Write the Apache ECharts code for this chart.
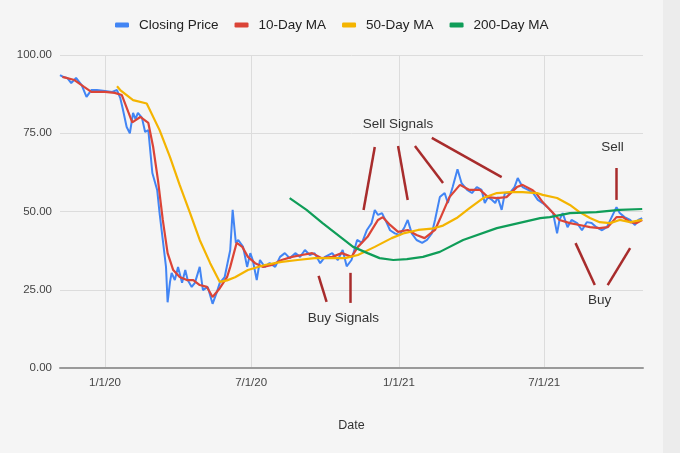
<!DOCTYPE html>
<html><head><meta charset="utf-8">
<script src="https://cdn.jsdelivr.net/npm/echarts@6/dist/echarts.min.js"></script>
<style>html,body{margin:0;padding:0;background:#f5f5f5}#c{width:680px;height:453px}</style>
</head><body><div id="c"></div>
<script>
const legendNames = ['Closing Price', '10-Day MA', '50-Day MA', '200-Day MA'];
const xTickDates = ['2020-01-01', '2020-07-01', '2021-01-01', '2021-07-01'];
const yTicks = [0, 25, 50, 75, 100];

const closePrice = [
 ['2019-11-06',93.6],['2019-11-10',93.0],['2019-11-15',92.7],['2019-11-20',91.0],['2019-11-26',92.7],['2019-12-03',90.4],
 ['2019-12-09',86.6],['2019-12-15',88.8],['2019-12-22',88.8],['2020-01-01',88.5],['2020-01-10',88.2],['2020-01-16',88.8],
 ['2020-01-20',86.3],['2020-01-23',83.0],['2020-01-28',77.0],['2020-02-01',75.0],['2020-02-05',81.5],['2020-02-08',79.5],
 ['2020-02-11',81.5],['2020-02-16',80.0],['2020-02-20',75.4],['2020-02-24',76.0],['2020-02-29',62.3],['2020-03-06',56.9],
 ['2020-03-09',49.5],['2020-03-13',40.9],['2020-03-17',32.3],['2020-03-19',21.0],['2020-03-22',27.5],['2020-03-24',30.4],
 ['2020-03-28',28.1],['2020-04-01',32.3],['2020-04-06',27.2],['2020-04-10',31.3],['2020-04-13',28.1],['2020-04-18',25.9],
 ['2020-04-22',27.2],['2020-04-28',32.3],['2020-05-02',24.9],['2020-05-08',25.9],['2020-05-14',20.5],['2020-05-19',24.0],
 ['2020-05-23',27.2],['2020-05-29',29.0],['2020-06-05',37.7],['2020-06-08',50.5],['2020-06-12',40.0],['2020-06-15',40.9],
 ['2020-06-21',38.7],['2020-06-26',32.3],['2020-06-30',36.7],['2020-07-03',34.5],['2020-07-08',28.1],['2020-07-12',34.5],
 ['2020-07-18',32.3],['2020-07-24',33.5],['2020-07-31',32.3],['2020-08-06',35.5],['2020-08-12',36.7],['2020-08-18',35.1],
 ['2020-08-25',36.7],['2020-08-31',35.5],['2020-09-06',37.7],['2020-09-12',36.1],['2020-09-18',36.7],['2020-09-25',33.5],
 ['2020-10-01',35.5],['2020-10-10',36.7],['2020-10-17',34.5],['2020-10-23',37.7],['2020-10-28',32.5],['2020-11-03',34.5],
 ['2020-11-10',40.9],['2020-11-16',40.0],['2020-11-22',44.0],['2020-11-28',46.3],['2020-12-02',50.5],['2020-12-06',48.9],
 ['2020-12-11',49.5],['2020-12-17',46.3],['2020-12-21',44.0],['2020-12-27',43.0],['2021-01-02',42.5],['2021-01-08',45.0],
 ['2021-01-12',47.3],['2021-01-17',43.0],['2021-01-23',40.9],['2021-01-30',40.0],['2021-02-05',40.9],['2021-02-11',43.0],
 ['2021-02-15',47.3],['2021-02-21',54.6],['2021-02-27',55.9],['2021-03-03',52.7],['2021-03-09',57.8],['2021-03-15',63.5],
 ['2021-03-20',59.1],['2021-03-27',56.9],['2021-04-02',55.9],['2021-04-08',57.8],['2021-04-14',56.9],['2021-04-18',52.7],
 ['2021-04-22',54.6],['2021-04-27',53.7],['2021-05-01',52.7],['2021-05-04',54.6],['2021-05-09',50.5],['2021-05-13',55.9],
 ['2021-05-19',55.9],['2021-05-25',57.8],['2021-05-29',60.7],['2021-06-04',57.8],['2021-06-11',56.9],['2021-06-17',55.9],
 ['2021-06-23',53.7],['2021-06-29',52.7],['2021-07-05',51.4],['2021-07-12',49.5],['2021-07-17',43.0],['2021-07-20',47.3],
 ['2021-07-24',49.5],['2021-07-30',45.0],['2021-08-04',47.3],['2021-08-11',46.3],['2021-08-17',44.0],['2021-08-23',46.6],
 ['2021-08-29',46.3],['2021-09-04',45.0],['2021-09-11',44.0],['2021-09-17',45.0],['2021-09-23',48.2],['2021-09-29',51.4],
 ['2021-10-03',49.5],['2021-10-09',48.2],['2021-10-16',47.3],['2021-10-22',45.7],['2021-10-26',47.3],['2021-10-31',47.9]
];

const ma10 = [
 ['2019-11-09',93.0],['2019-11-24',92.0],['2019-12-06',89.8],['2019-12-15',88.2],['2020-01-01',88.2],['2020-01-13',87.9],
 ['2020-01-22',87.2],['2020-01-30',81.8],['2020-02-04',78.5],['2020-02-14',80.2],['2020-02-24',78.3],['2020-03-01',70.6],
 ['2020-03-07',60.0],['2020-03-13',47.3],['2020-03-19',36.7],['2020-03-26',31.3],['2020-04-03',29.1],['2020-04-12',28.1],
 ['2020-04-20',28.1],['2020-04-28',26.5],['2020-05-07',25.9],['2020-05-14',22.7],['2020-05-23',25.5],['2020-06-01',29.0],
 ['2020-06-05',32.3],['2020-06-13',40.0],['2020-06-20',38.7],['2020-06-27',35.5],['2020-07-06',33.5],['2020-07-16',32.3],
 ['2020-07-27',32.9],['2020-08-08',34.5],['2020-08-21',35.5],['2020-09-02',36.1],['2020-09-15',36.7],['2020-09-27',35.1],
 ['2020-10-10',35.5],['2020-10-22',36.7],['2020-11-03',35.5],['2020-11-11',38.7],['2020-11-23',41.9],['2020-12-06',47.3],
 ['2020-12-12',48.2],['2020-12-21',45.7],['2020-12-31',43.5],['2021-01-12',44.1],['2021-01-23',42.5],['2021-02-02',41.5],
 ['2021-02-15',44.1],['2021-02-21',47.5],['2021-03-05',54.6],['2021-03-18',58.5],['2021-03-30',56.9],['2021-04-12',56.9],
 ['2021-04-22',54.6],['2021-05-03',54.3],['2021-05-15',54.6],['2021-05-28',57.8],['2021-06-04',58.5],['2021-06-16',56.9],
 ['2021-06-22',55.5],['2021-06-29',53.0],['2021-07-12',49.5],['2021-07-20',47.3],['2021-08-02',46.3],['2021-08-14',45.7],
 ['2021-08-27',45.0],['2021-09-08',44.7],['2021-09-18',45.0],['2021-09-29',48.2],['2021-10-07',48.2],['2021-10-16',46.6],
 ['2021-10-24',46.3],['2021-10-31',47.3]
];

const ma50 = [
 ['2020-01-16',90.0],['2020-01-20',88.8],['2020-02-05',85.6],['2020-02-22',84.5],['2020-03-09',76.0],['2020-03-22',67.4],
 ['2020-04-03',58.5],['2020-04-16',49.5],['2020-04-28',40.9],['2020-05-11',33.5],['2020-05-23',27.5],['2020-06-01',28.0],
 ['2020-06-11',29.0],['2020-06-27',31.3],['2020-07-18',32.9],['2020-08-08',33.9],['2020-08-28',34.5],['2020-09-18',35.1],
 ['2020-10-26',35.1],['2020-11-11',36.1],['2020-12-02',38.7],['2020-12-23',41.5],['2021-01-08',43.1],['2021-01-25',44.1],
 ['2021-02-11',44.5],['2021-02-25',45.5],['2021-03-14',47.9],['2021-03-30',51.1],['2021-04-16',54.3],['2021-05-03',55.9],
 ['2021-05-19',56.2],['2021-06-04',56.2],['2021-06-22',55.9],['2021-06-29',55.3],['2021-07-17',54.3],['2021-08-02',52.1],
 ['2021-08-14',49.8],['2021-08-27',47.9],['2021-09-08',46.6],['2021-09-21',46.3],['2021-10-03',47.3],['2021-10-16',46.6],
 ['2021-10-31',47.3]
];

const ma200 = [
 ['2020-08-18',54.3],['2020-09-08',50.5],['2020-09-28',46.3],['2020-10-20',41.9],['2020-11-05',38.7],['2020-11-23',36.7],
 ['2020-12-08',35.1],['2020-12-25',34.5],['2021-01-11',34.8],['2021-01-31',35.5],['2021-02-21',37.1],['2021-03-22',40.9],
 ['2021-05-03',44.7],['2021-06-26',47.9],['2021-07-08',48.2],['2021-08-02',49.5],['2021-09-04',49.8],['2021-10-03',50.5],
 ['2021-10-31',50.8]
];

// annotation strokes: [startDate, startValue, endDate, endValue]
const annotationLines = [
 ['2020-12-02',70.6,'2020-11-18',50.5],
 ['2020-12-31',70.9,'2021-01-12',53.7],
 ['2021-01-21',70.9,'2021-02-25',59.1],
 ['2021-02-11',73.5,'2021-05-09',61.0],
 ['2020-09-23',29.4,'2020-10-03',21.1],
 ['2020-11-02',30.4,'2020-11-02',20.8],
 ['2021-09-29',63.9,'2021-09-29',53.7],
 ['2021-08-09',39.9,'2021-09-02',26.5],
 ['2021-09-18',26.5,'2021-10-16',38.3]
];
// annotation texts: [text, date, value]
const annotationTexts = [
 ['Sell Signals','2020-12-31',78.0],
 ['Buy Signals','2020-10-24',16.0],
 ['Sell','2021-09-24',70.6],
 ['Buy','2021-09-08',21.7]
];

const T = s => { const p = s.split('-').map(Number); return Date.UTC(p[0], p[1]-1, p[2]); };
const conv = arr => arr.map(d => [T(d[0]), d[1]]);
const colors = ['#4285f4', '#db4437', '#f4b400', '#0f9d58'];

const chart = echarts.init(document.getElementById('c'), null, {renderer: 'canvas'});
const tickTs = xTickDates.map(T);
const lineSeries = (name, data, color, w) => ({
  name, type: 'line', data: conv(data), showSymbol: false, symbol: 'none',
  lineStyle: {color, width: w}, itemStyle: {color}, silent: true, z: 2
});

chart.setOption({
  animation: false,
  backgroundColor: '#f5f5f5',
  textStyle: {fontFamily: 'Liberation Sans, Arial, sans-serif'},
  graphic: [{type: 'rect', right: 0, top: 0, shape: {width: 17, height: 453}, style: {fill: '#ececec'}, silent: true}],
  legend: {
    data: legendNames, left: 110, top: 13, icon: 'roundRect', itemWidth: 14, itemHeight: 5, itemGap: 16,
    textStyle: {fontSize: 13.5, color: '#222', padding: [0, 0, 0, 5]}
  },
  grid: {left: 60, right: 37, top: 55, bottom: 85, containLabel: false},
  xAxis: {
    type: 'value', min: T('2019-11-06'), max: T('2021-11-01'),
    name: 'Date', nameLocation: 'middle', nameGap: 51,
    nameTextStyle: {fontSize: 12.5, color: '#333'},
    axisLine: {show: true, onZero: false, lineStyle: {color: '#9a9a9a', width: 2}},
    axisTick: {show: false, customValues: tickTs},
    axisLabel: {customValues: tickTs, fontSize: 11.5, color: '#444', margin: 9,
      formatter: v => { const d = new Date(v); return (d.getUTCMonth()+1) + '/' + d.getUTCDate() + '/' + String(d.getUTCFullYear()).slice(2); }},
    splitLine: {show: true, lineStyle: {color: '#dcdcdc', width: 1}}
  },
  yAxis: {
    type: 'value', min: 0, max: 100, interval: 25,
    axisLine: {show: false}, axisTick: {show: false},
    axisLabel: {fontSize: 11.5, color: '#444', margin: 8, formatter: v => v.toFixed(2)},
    splitLine: {lineStyle: {color: '#dcdcdc', width: 1}}
  },
  series: [
    lineSeries(legendNames[0], closePrice, colors[0], 2),
    lineSeries(legendNames[1], ma10, colors[1], 2.2),
    lineSeries(legendNames[2], ma50, colors[2], 2.2),
    lineSeries(legendNames[3], ma200, colors[3], 2.2),
    {
      name: 'annotations', type: 'line', data: [], silent: true, z: 5,
      markLine: {
        silent: true, symbol: ['none', 'none'], animation: false,
        lineStyle: {color: '#a82c2c', width: 2.5, type: 'solid'}, label: {show: false},
        emphasis: {disabled: true},
        data: annotationLines.map(a => [{coord: [T(a[0]), a[1]]}, {coord: [T(a[2]), a[3]]}])
      },
      markPoint: {
        silent: true, symbol: 'rect', symbolSize: 1, itemStyle: {color: 'rgba(0,0,0,0)'},
        label: {show: true, position: 'inside', formatter: '{b}', fontSize: 13.5, color: '#333'},
        data: annotationTexts.map(a => ({name: a[0], coord: [T(a[1]), a[2]]}))
      }
    }
  ]
});
</script></body></html>
